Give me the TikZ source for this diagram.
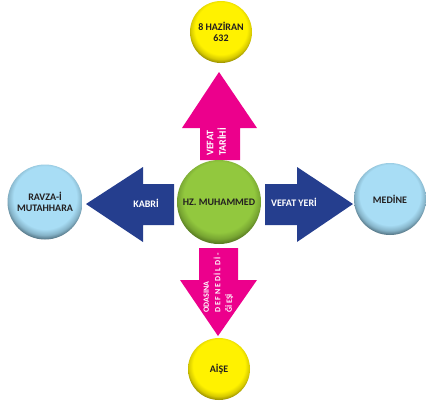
\documentclass[tikz,border=0pt]{standalone}
\usepackage{fontspec}
\setmainfont{Carlito}
\definecolor{pinkar}{HTML}{EC008C}
\definecolor{bluear}{HTML}{253E8E}
\definecolor{txtdark}{HTML}{231F20}
\definecolor{yelbase}{HTML}{FFF200}
\definecolor{yelmid}{HTML}{D8CB00}
\definecolor{yeldark}{HTML}{5E5700}
\definecolor{blubase}{HTML}{A8DDF5}
\definecolor{blumid}{HTML}{86B4C9}
\definecolor{bludark}{HTML}{263A45}
\definecolor{grnbase}{HTML}{92C83E}
\definecolor{grnmid}{HTML}{78A632}
\definecolor{grndark}{HTML}{354C10}
\pgfdeclareradialshading{yball}{\pgfpoint{0bp}{5bp}}{color(0bp)=(yelbase); color(21bp)=(yelbase); color(24.5bp)=(yelmid); color(29.5bp)=(yeldark); color(50bp)=(yeldark)}
\pgfdeclareradialshading{bball}{\pgfpoint{0bp}{5bp}}{color(0bp)=(blubase); color(21bp)=(blubase); color(24.5bp)=(blumid); color(29.5bp)=(bludark); color(50bp)=(bludark)}
\pgfdeclareradialshading{gball}{\pgfpoint{0bp}{5bp}}{color(0bp)=(grnbase); color(21bp)=(grnbase); color(24.5bp)=(grnmid); color(29.5bp)=(grndark); color(50bp)=(grndark)}
\begin{document}
\begin{tikzpicture}[x=1pt,y=-1pt,
  ballnode/.style={circle, inner sep=0pt, align=center, text=txtdark,
    font=\fontsize{10}{11.5}\selectfont\bfseries},
  arrowtext/.style={inner sep=0pt, text=white, font=\fontsize{10}{11.5}\selectfont\bfseries},
  vtext/.style={inner sep=0pt, text=white, align=left, rotate=90, anchor=west}]
\useasboundingbox (0,0) rectangle (426,400);
% block arrows
\fill[pinkar] (200,160) -- (200,128) -- (182,128) -- (219,72) -- (257,128) -- (240,128) -- (240,160) -- cycle;
\fill[pinkar] (199,248) -- (199,280) -- (180,280) -- (218,336) -- (257,280) -- (238,280) -- (238,248) -- cycle;
\fill[bluear] (174,184) -- (143,184) -- (143,167) -- (86,204) -- (143,242) -- (143,225) -- (174,225) -- cycle;
\fill[bluear] (265,184) -- (297,184) -- (297,167) -- (353,204) -- (297,242) -- (297,225) -- (265,225) -- cycle;
% circles
\node[ballnode, shading=gball, minimum size=84pt] (center) at (219,202) {HZ. MUHAMMED};
\node[ballnode, shading=yball, minimum size=62pt] (date) at (221,32) {8 HAZİRAN\\632};
\node[ballnode, shading=bball, minimum size=75pt] (ravza) at (45,202) {RAVZA-İ\\MUTAHHARA};
\node[ballnode, shading=bball, minimum size=72pt] (medine) at (390,199) {MEDİNE};
\node[ballnode, shading=yball, minimum size=62pt] (aise) at (219,369) {AİŞE};
% arrow labels
\node[arrowtext] (kabri) at (146,203) {KABRİ};
\node[arrowtext] (yeri) at (294,202) {VEFAT YERİ};
\node[vtext, font=\fontsize{10}{12.5}\selectfont\bfseries] (tarihi) at (216.5,156) {VEFAT\\TARİHİ};
\node[vtext, font=\fontsize{8}{11.5}\selectfont\bfseries] (defn) at (218.5,313) {ODASINA\\D E F N E D İ L D İ -\\Ğİ EŞİ};
\end{tikzpicture}
\end{document}
